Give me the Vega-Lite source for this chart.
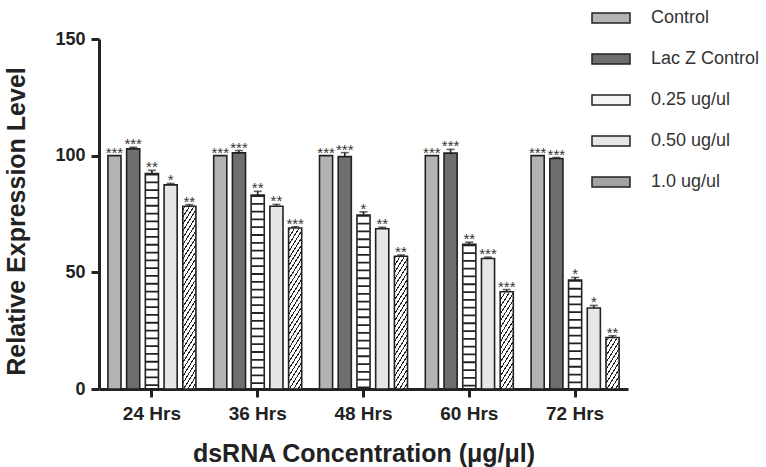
{
  "$schema": "https://vega.github.io/schema/vega-lite/v6.json",
  "width": 529,
  "height": 350,
  "autosize": {"type": "none"},
  "padding": {"left": 99, "top": 39, "right": 138, "bottom": 78},
  "background": "white",
  "config": {
    "view": {"stroke": null},
    "font": "Liberation Sans",
    "axis": {
      "domainColor": "#222", "domainWidth": 3, "tickColor": "#222", "tickWidth": 3, "tickSize": 8,
      "labelFont": "Liberation Sans", "labelFontWeight": "bold", "labelColor": "#222",
      "titleFont": "Liberation Sans", "titleFontWeight": "bold", "titleColor": "#222", "grid": false
    }
  },
  "data": {
    "values": [
      {"time": "24 Hrs", "series": "Control", "value": 100, "upper": 100, "sig": "***"},
      {"time": "24 Hrs", "series": "Lac Z Control", "value": 102.9, "upper": 103.6, "sig": "***"},
      {"time": "24 Hrs", "series": "0.25 ug/ul", "value": 92.3, "upper": 93.7, "sig": "**"},
      {"time": "24 Hrs", "series": "0.50 ug/ul", "value": 87.5, "upper": 88.1, "sig": "*"},
      {"time": "24 Hrs", "series": "1.0 ug/ul", "value": 78.3, "upper": 79.0, "sig": "**"},
      {"time": "36 Hrs", "series": "Control", "value": 100, "upper": 100, "sig": "***"},
      {"time": "36 Hrs", "series": "Lac Z Control", "value": 101.2, "upper": 102.2, "sig": "***"},
      {"time": "36 Hrs", "series": "0.25 ug/ul", "value": 83.1, "upper": 84.7, "sig": "**"},
      {"time": "36 Hrs", "series": "0.50 ug/ul", "value": 78.3, "upper": 79.1, "sig": "**"},
      {"time": "36 Hrs", "series": "1.0 ug/ul", "value": 69.0, "upper": 69.5, "sig": "***"},
      {"time": "48 Hrs", "series": "Control", "value": 100, "upper": 100, "sig": "***"},
      {"time": "48 Hrs", "series": "Lac Z Control", "value": 99.6, "upper": 101.3, "sig": "***"},
      {"time": "48 Hrs", "series": "0.25 ug/ul", "value": 74.6, "upper": 75.9, "sig": "*"},
      {"time": "48 Hrs", "series": "0.50 ug/ul", "value": 68.7, "upper": 69.3, "sig": "**"},
      {"time": "48 Hrs", "series": "1.0 ug/ul", "value": 56.9, "upper": 57.4, "sig": "**"},
      {"time": "60 Hrs", "series": "Control", "value": 100, "upper": 100, "sig": "***"},
      {"time": "60 Hrs", "series": "Lac Z Control", "value": 101.1, "upper": 102.7, "sig": "***"},
      {"time": "60 Hrs", "series": "0.25 ug/ul", "value": 62.0, "upper": 62.9, "sig": "**"},
      {"time": "60 Hrs", "series": "0.50 ug/ul", "value": 55.9, "upper": 56.5, "sig": "***"},
      {"time": "60 Hrs", "series": "1.0 ug/ul", "value": 41.7, "upper": 42.6, "sig": "***"},
      {"time": "72 Hrs", "series": "Control", "value": 100, "upper": 100, "sig": "***"},
      {"time": "72 Hrs", "series": "Lac Z Control", "value": 98.8, "upper": 99.2, "sig": "***"},
      {"time": "72 Hrs", "series": "0.25 ug/ul", "value": 46.7, "upper": 47.8, "sig": "*"},
      {"time": "72 Hrs", "series": "0.50 ug/ul", "value": 34.7, "upper": 35.8, "sig": "*"},
      {"time": "72 Hrs", "series": "1.0 ug/ul", "value": 22.1, "upper": 22.8, "sig": "**"}
    ]
  },
  "encoding": {
    "x": {
      "field": "time", "type": "nominal",
      "sort": ["24 Hrs", "36 Hrs", "48 Hrs", "60 Hrs", "72 Hrs"],
      "scale": {"paddingInner": 0.115, "paddingOuter": 0.0575},
      "axis": {
        "title": "dsRNA Concentration (μg/μl)", "labelAngle": 0, "labelFontSize": 19, "labelPadding": 7,
        "titleFontSize": 25, "titleX": 264.5, "titleY": 72, "titleBaseline": "alphabetic"
      }
    },
    "xOffset": {
      "field": "series", "type": "nominal",
      "scale": {
        "domain": ["Control", "Lac Z Control", "0.25 ug/ul", "0.50 ug/ul", "1.0 ug/ul"],
        "paddingInner": 0.3, "paddingOuter": 0.15
      }
    }
  },
  "layer": [
    {
      "transform": [{"filter": "datum.series === '1.0 ug/ul'"}],
      "mark": {
        "type": "bar",
        "fill": {
          "gradient": "linear", "x1": 0, "y1": 0, "x2": 0.1234, "y2": 1.0984,
          "stops": [
            {"offset": 0, "color": "#222"}, {"offset": 0.0093, "color": "#222"}, {"offset": 0.0093, "color": "#fff"}, {"offset": 0.0333, "color": "#fff"},
            {"offset": 0.0333, "color": "#222"}, {"offset": 0.0426, "color": "#222"}, {"offset": 0.0426, "color": "#fff"}, {"offset": 0.0667, "color": "#fff"},
            {"offset": 0.0667, "color": "#222"}, {"offset": 0.076, "color": "#222"}, {"offset": 0.076, "color": "#fff"}, {"offset": 0.1, "color": "#fff"},
            {"offset": 0.1, "color": "#222"}, {"offset": 0.1093, "color": "#222"}, {"offset": 0.1093, "color": "#fff"}, {"offset": 0.1333, "color": "#fff"},
            {"offset": 0.1333, "color": "#222"}, {"offset": 0.1426, "color": "#222"}, {"offset": 0.1426, "color": "#fff"}, {"offset": 0.1667, "color": "#fff"},
            {"offset": 0.1667, "color": "#222"}, {"offset": 0.176, "color": "#222"}, {"offset": 0.176, "color": "#fff"}, {"offset": 0.2, "color": "#fff"},
            {"offset": 0.2, "color": "#222"}, {"offset": 0.2093, "color": "#222"}, {"offset": 0.2093, "color": "#fff"}, {"offset": 0.2333, "color": "#fff"},
            {"offset": 0.2333, "color": "#222"}, {"offset": 0.2426, "color": "#222"}, {"offset": 0.2426, "color": "#fff"}, {"offset": 0.2667, "color": "#fff"},
            {"offset": 0.2667, "color": "#222"}, {"offset": 0.276, "color": "#222"}, {"offset": 0.276, "color": "#fff"}, {"offset": 0.3, "color": "#fff"},
            {"offset": 0.3, "color": "#222"}, {"offset": 0.3093, "color": "#222"}, {"offset": 0.3093, "color": "#fff"}, {"offset": 0.3333, "color": "#fff"},
            {"offset": 0.3333, "color": "#222"}, {"offset": 0.3426, "color": "#222"}, {"offset": 0.3426, "color": "#fff"}, {"offset": 0.3667, "color": "#fff"},
            {"offset": 0.3667, "color": "#222"}, {"offset": 0.376, "color": "#222"}, {"offset": 0.376, "color": "#fff"}, {"offset": 0.4, "color": "#fff"},
            {"offset": 0.4, "color": "#222"}, {"offset": 0.4093, "color": "#222"}, {"offset": 0.4093, "color": "#fff"}, {"offset": 0.4333, "color": "#fff"},
            {"offset": 0.4333, "color": "#222"}, {"offset": 0.4426, "color": "#222"}, {"offset": 0.4426, "color": "#fff"}, {"offset": 0.4667, "color": "#fff"},
            {"offset": 0.4667, "color": "#222"}, {"offset": 0.476, "color": "#222"}, {"offset": 0.476, "color": "#fff"}, {"offset": 0.5, "color": "#fff"},
            {"offset": 0.5, "color": "#222"}, {"offset": 0.5093, "color": "#222"}, {"offset": 0.5093, "color": "#fff"}, {"offset": 0.5333, "color": "#fff"},
            {"offset": 0.5333, "color": "#222"}, {"offset": 0.5426, "color": "#222"}, {"offset": 0.5426, "color": "#fff"}, {"offset": 0.5667, "color": "#fff"},
            {"offset": 0.5667, "color": "#222"}, {"offset": 0.576, "color": "#222"}, {"offset": 0.576, "color": "#fff"}, {"offset": 0.6, "color": "#fff"},
            {"offset": 0.6, "color": "#222"}, {"offset": 0.6093, "color": "#222"}, {"offset": 0.6093, "color": "#fff"}, {"offset": 0.6333, "color": "#fff"},
            {"offset": 0.6333, "color": "#222"}, {"offset": 0.6426, "color": "#222"}, {"offset": 0.6426, "color": "#fff"}, {"offset": 0.6667, "color": "#fff"},
            {"offset": 0.6667, "color": "#222"}, {"offset": 0.676, "color": "#222"}, {"offset": 0.676, "color": "#fff"}, {"offset": 0.7, "color": "#fff"},
            {"offset": 0.7, "color": "#222"}, {"offset": 0.7093, "color": "#222"}, {"offset": 0.7093, "color": "#fff"}, {"offset": 0.7333, "color": "#fff"},
            {"offset": 0.7333, "color": "#222"}, {"offset": 0.7426, "color": "#222"}, {"offset": 0.7426, "color": "#fff"}, {"offset": 0.7667, "color": "#fff"},
            {"offset": 0.7667, "color": "#222"}, {"offset": 0.776, "color": "#222"}, {"offset": 0.776, "color": "#fff"}, {"offset": 0.8, "color": "#fff"},
            {"offset": 0.8, "color": "#222"}, {"offset": 0.8093, "color": "#222"}, {"offset": 0.8093, "color": "#fff"}, {"offset": 0.8333, "color": "#fff"},
            {"offset": 0.8333, "color": "#222"}, {"offset": 0.8426, "color": "#222"}, {"offset": 0.8426, "color": "#fff"}, {"offset": 0.8667, "color": "#fff"},
            {"offset": 0.8667, "color": "#222"}, {"offset": 0.876, "color": "#222"}, {"offset": 0.876, "color": "#fff"}, {"offset": 0.9, "color": "#fff"},
            {"offset": 0.9, "color": "#222"}, {"offset": 0.9093, "color": "#222"}, {"offset": 0.9093, "color": "#fff"}, {"offset": 0.9333, "color": "#fff"},
            {"offset": 0.9333, "color": "#222"}, {"offset": 0.9426, "color": "#222"}, {"offset": 0.9426, "color": "#fff"}, {"offset": 0.9667, "color": "#fff"},
            {"offset": 0.9667, "color": "#222"}, {"offset": 0.976, "color": "#222"}, {"offset": 0.976, "color": "#fff"}, {"offset": 1, "color": "#fff"}
          ]
        }
      },
      "encoding": {
        "y": {"datum": 80, "type": "quantitative", "scale": {"domain": [0, 150], "nice": false}},
        "y2": {"datum": 0}
      }
    },
    {
      "transform": [{"filter": "datum.series === '1.0 ug/ul'"}],
      "mark": {"type": "bar", "fill": "#ffffff", "stroke": "#ffffff", "strokeWidth": 2},
      "encoding": {
        "y": {"field": "value", "type": "quantitative", "scale": {"domain": [0, 150], "nice": false}},
        "y2": {"datum": 80}
      }
    },
    {
      "transform": [{"filter": "datum.series === '0.25 ug/ul'"}],
      "mark": {"type": "rule", "color": "#222", "strokeWidth": 12.2, "strokeDash": [1.8, 6], "strokeCap": "butt"},
      "encoding": {
        "y": {"field": "value", "type": "quantitative", "scale": {"domain": [0, 150], "nice": false}},
        "y2": {"datum": 0}
      }
    },
    {
      "mark": {"type": "bar", "stroke": "#222", "strokeWidth": 1.6},
      "encoding": {
        "y": {
          "field": "value", "type": "quantitative",
          "scale": {"domain": [0, 150], "nice": false},
          "axis": {
            "title": "Relative Expression Level", "values": [0, 50, 100, 150],
            "labelFontSize": 18, "labelPadding": 6,
            "titleFontSize": 25, "titleX": -75, "titleY": 182, "titleBaseline": "alphabetic"
          }
        },
        "fillOpacity": {
          "condition": {"test": "datum.series === '0.25 ug/ul' || datum.series === '1.0 ug/ul'", "value": 0},
          "value": 1
        },
        "fill": {
          "field": "series", "type": "nominal",
          "scale": {
            "domain": ["Control", "Lac Z Control", "0.25 ug/ul", "0.50 ug/ul", "1.0 ug/ul"],
            "range": ["#b3b3b3", "#6e6e6e", "#f4f4f4", "#e6e6e6", "#a3a3a3"]
          },
          "legend": {
            "orient": "none", "legendX": 492, "legendY": -41, "title": null, "padding": 0,
            "symbolType": "M-1,-0.263H1V0.263H-1Z", "symbolSize": 1444,
            "symbolStrokeColor": "#222", "symbolStrokeWidth": 1.5, "symbolOpacity": 1,
            "labelFont": "Liberation Sans", "labelFontSize": 18, "labelColor": "#333", "labelOffset": 20,
            "rowPadding": 12,
            "encoding": {
              "symbols": {
                "fillOpacity": {"value": 1},
                "stroke": {"value": "#222"},
                "strokeWidth": {"value": 1.5}
              }
            }
          }
        }
      }
    },
    {
      "transform": [{"filter": "datum.upper > datum.value"}],
      "mark": {"type": "rule", "color": "#222", "strokeWidth": 1.6},
      "encoding": {
        "y": {"field": "value", "type": "quantitative", "scale": {"domain": [0, 150], "nice": false}},
        "y2": {"field": "upper"}
      }
    },
    {
      "transform": [{"filter": "datum.upper > datum.value"}],
      "mark": {"type": "tick", "color": "#222", "thickness": 1.6, "size": 8},
      "encoding": {
        "y": {"field": "upper", "type": "quantitative", "scale": {"domain": [0, 150], "nice": false}}
      }
    },
    {
      "mark": {"type": "text", "font": "Liberation Sans", "fontSize": 15, "color": "#333", "baseline": "alphabetic", "dy": 2},
      "encoding": {
        "y": {"field": "upper", "type": "quantitative", "scale": {"domain": [0, 150], "nice": false}},
        "text": {"field": "sig"}
      }
    }
  ]
}
